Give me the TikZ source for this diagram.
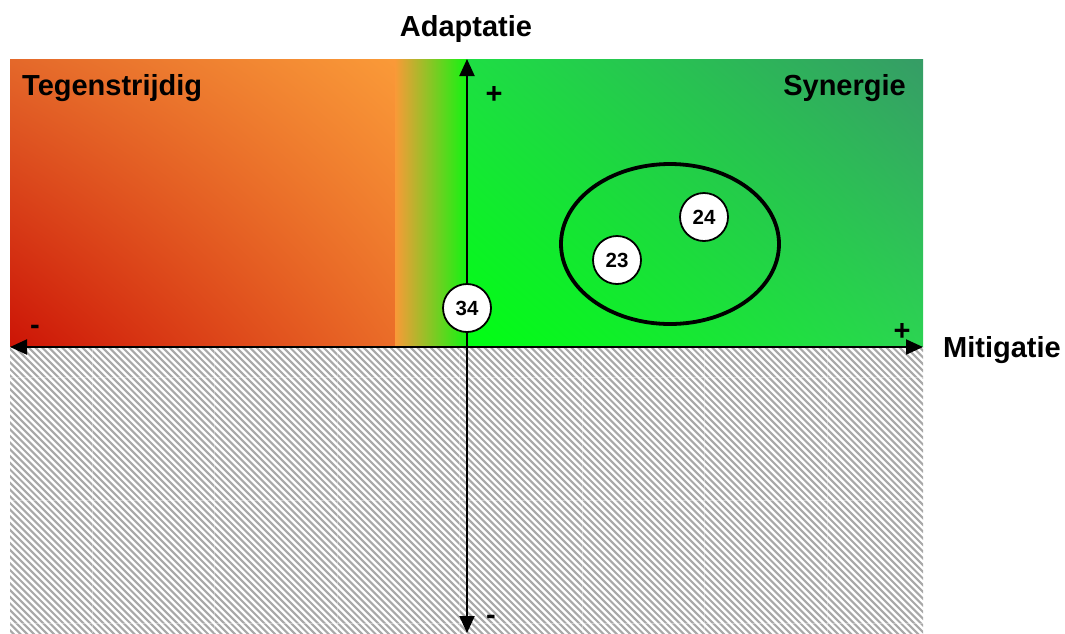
\documentclass[tikz,border=0pt]{standalone}
\usepackage{fontspec}
\setmainfont{Liberation Sans}
\usetikzlibrary{arrows.meta,shadings}
\definecolor{ulO}{HTML}{E4682A}
\definecolor{urO}{HTML}{FA9A38}
\definecolor{llO}{HTML}{CC1406}
\definecolor{lrO}{HTML}{EA6C28}
\definecolor{stripO}{HTML}{F99A38}
\definecolor{stripM}{HTML}{C4C43A}
\definecolor{stripG}{HTML}{12F412}
\definecolor{ulG}{HTML}{1EDE44}
\definecolor{urG}{HTML}{369C66}
\definecolor{llG}{HTML}{00FF12}
\definecolor{lrG}{HTML}{2CD452}
\definecolor{hatchgray}{HTML}{A8A8A8}
\tikzset{
  lbl/.style={font=\bfseries\fontsize{29}{34}\selectfont, inner sep=0pt},
  axisline/.style={line width=2pt, {Triangle[length=17pt,width=15pt]}-{Triangle[length=17pt,width=15pt]}},
  numcircle/.style={circle, draw, line width=1.8pt, fill=white, minimum size=48pt, inner sep=0pt, font=\bfseries\fontsize{20.5}{24}\selectfont},
  hatchline/.style={hatchgray, line width=2.1pt},
  seam/.style={white, opacity=0.35, line width=1pt}
}
\begin{document}
\begin{tikzpicture}[x=1pt,y=-1pt]
\useasboundingbox (0,0) rectangle (1065,633);
% top gradients
\shade[upper left=ulO, upper right=urO, lower left=llO, lower right=lrO] (10,59) rectangle (395,347);
\shade[left color=stripO, middle color=stripM, right color=stripG] (395,59) rectangle (467,347);
\shade[upper left=ulG, upper right=urG, lower left=llG, lower right=lrG] (467,59) rectangle (923,347);
% hatched lower half
\begin{scope}
  \clip (10,347) rectangle (923,633);
  \fill[white] (10,347) rectangle (923,633);
  \foreach \i in {0,...,185} {
    \draw[hatchline] ({10-290+\i*6.7},347) -- ++(290,290);
  }
  \foreach \sx in {92,214,337,459,582,704,827} {
    \draw[seam] (\sx,347) -- (\sx,633);
  }
  \foreach \sy in {377,500,623} {
    \draw[seam] (10,\sy) -- (923,\sy);
  }
\end{scope}
% axes
\coordinate (xl) at (10,347);
\coordinate (xr) at (923,347);
\coordinate (yt) at (467,59);
\coordinate (yb) at (467,633);
\draw[axisline] (xl) -- (xr);
\draw[axisline] (yb) -- (yt);
% labels
\node[lbl, anchor=base] (adapt) at (466,36) {Adaptatie};
\node[lbl, anchor=base west] (mitig) at (943,357) {Mitigatie};
\node[lbl, anchor=base west] (tegen) at (22,95) {Tegenstrijdig};
\node[lbl, anchor=base east] (syn) at (906,95) {Synergie};
\node[lbl] (ptop) at (494,95) {+};
\node[lbl] (pright) at (902,332) {+};
\node[lbl] (mleft) at (35,330) {-};
\node[lbl] (mbot) at (491,620) {-};
% ellipse and circles
\draw[line width=3.8pt] (670,244) ellipse [x radius=109, y radius=80];
\node[numcircle] (n34) at (467,308) {34};
\node[numcircle] (n24) at (704,217) {24};
\node[numcircle] (n23) at (617,260) {23};
\end{tikzpicture}
\end{document}
